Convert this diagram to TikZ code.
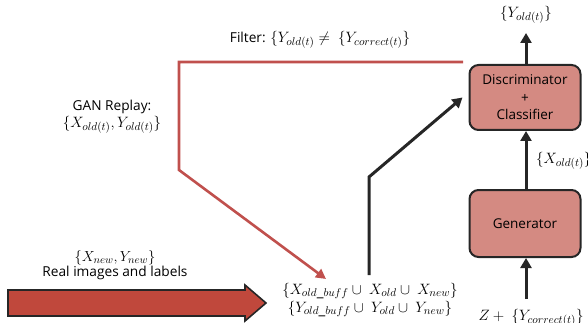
\RequirePackage{fix-cm}
\documentclass[tikz,border=0pt]{standalone}
\usepackage{fontspec}
\setmainfont{Open Sans}
\DeclareMathSizes{15}{15}{11.2}{8.5}
\DeclareMathSizes{14.5}{14.5}{10.8}{8.2}
\usetikzlibrary{arrows.meta}
\definecolor{boxfill}{RGB}{212,138,130}
\definecolor{redline}{RGB}{192,80,77}
\definecolor{bigred}{RGB}{192,72,60}
\definecolor{edge}{RGB}{38,38,38}
\begin{document}
\begin{tikzpicture}[x=1pt,y=-1pt,
  box/.style={draw=edge,line width=2pt,fill=boxfill,rounded corners=9pt,
    minimum width=111pt,align=center,font=\fontsize{13.5}{17.5}\selectfont},
  lbl/.style={align=center,inner sep=0pt,font=\fontsize{13.7}{15}\selectfont},
  mth/.style={align=center,inner sep=0pt,font=\fontsize{15}{19}\selectfont},
  blk/.style={draw=edge,line width=3pt,-{Triangle[length=10pt,width=11pt]}},
  rd/.style={draw=redline,line width=2.6pt,-{Triangle[length=10pt,width=10pt]}}]
\useasboundingbox (0,0) rectangle (588,323);
\node[box,minimum height=65pt] (disc) at (525,97.5) {Discriminator\\[0pt]+\\[0pt]Classifier};
\node[box,minimum height=67pt] (gen) at (525,223.5) {Generator};
\node[mth] (yold) at (526,15) {$\{Y_{old(t)}\}$};
\coordinate (ytop) at (526,33);
\node[mth,anchor=west] (xold) at (536,161) {$\{X_{old(t)}\}$};
\node[mth] (zc) at (531,318) {$Z+\ \{Y_{correct(t)}\}$};
\node[lbl] (filt) at (320,40) {Filter: \fontsize{15}{18}\selectfont$\{Y_{old(t)}\neq\ \{Y_{correct(t)}\}$};
\node[lbl] (gan) at (112,117) {GAN Replay:\\[2pt]\fontsize{15}{18}\selectfont$\{X_{old(t)},Y_{old(t)}\}$};
\node[lbl] (xnew) at (115,258) {\fontsize{14.5}{18}\selectfont$\{X_{new},Y_{new}\}$};
\node[lbl] (real) at (115,273) {Real images and labels};
\node[mth] (buff) at (370,300) {$\{X_{old\_buff}\cup\ X_{old}\cup\ X_{new}\}$\\[-1pt]$\{Y_{old\_buff}\cup\ Y_{old}\cup\ Y_{new}\}$};
\coordinate (f1) at (463,62);
\coordinate (f2) at (179,62);
\coordinate (f3) at (179,170);
\coordinate (ftip) at (326,279);
\coordinate (b1) at (369,275);
\coordinate (b2) at (369,177);
\coordinate (zbot) at (526,299);
% connectors
\draw[blk] (gen.north -| ytop) -- (disc.south -| ytop);
\draw[blk] (disc.north -| ytop) -- (ytop);
\draw[blk] (zbot) -- (gen.south -| zbot);
\draw[blk] (b1) -- (b2) -- ([xshift=-6pt]disc.west);
\draw[rd,line join=miter] (f1) -- (f2) -- (f3) -- (ftip);
% big arrow
\draw[draw=edge,line width=1.6pt,fill=bigred,line join=miter]
  (8,290) -- (245,290) -- (245,285) -- (266,303) -- (245,321) -- (245,316) -- (8,316) -- cycle;
\end{tikzpicture}
\end{document}
